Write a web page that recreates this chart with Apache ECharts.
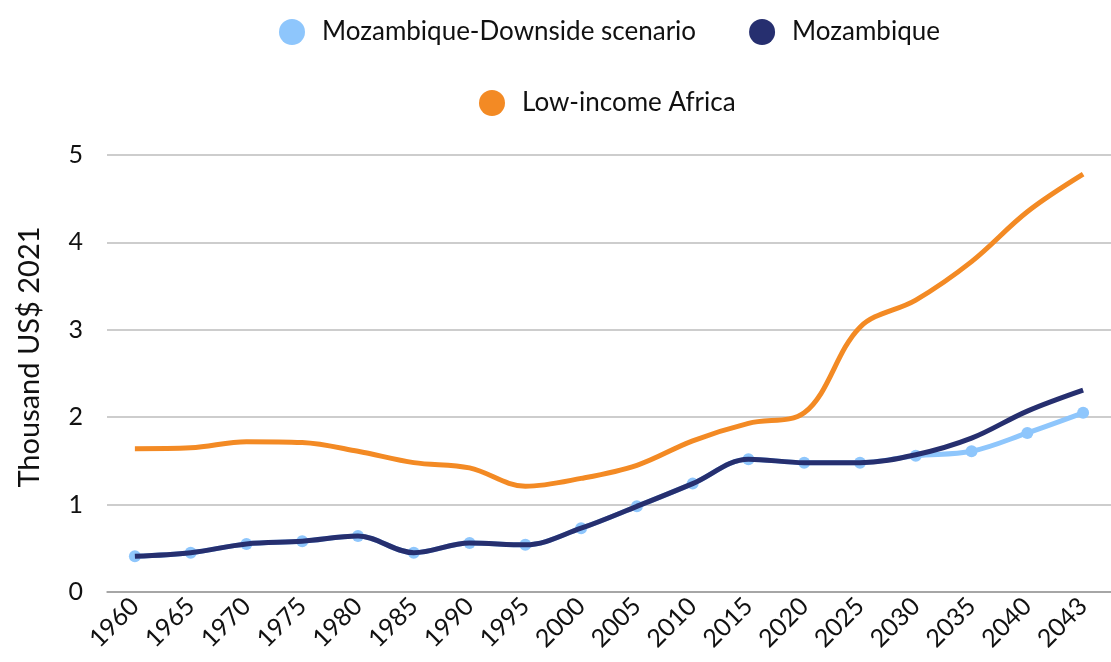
<!DOCTYPE html>
<html>
<head>
<meta charset="utf-8">
<script src="https://cdn.jsdelivr.net/npm/echarts@6/dist/echarts.min.js"></script>
<style>html,body{margin:0;padding:0;background:#fff}#c{width:1111px;height:662px}</style>
</head>
<body>
<div id="c"></div>
<script>
const years = ['1960','1965','1970','1975','1980','1985','1990','1995','2000','2005','2010','2015','2020','2025','2030','2035','2040','2043'];
const downside = [0.41,0.45,0.55,0.58,0.64,0.45,0.56,0.54,0.73,0.98,1.24,1.52,1.48,1.48,1.56,1.61,1.82,2.05];
const mozambique = [0.41,0.45,0.55,0.58,0.64,0.45,0.56,0.54,0.73,0.98,1.24,1.52,1.48,1.48,1.57,1.76,2.07,2.31];
const lowIncomeAfrica = [1.64,1.65,1.72,1.71,1.61,1.48,1.42,1.21,1.30,1.45,1.73,1.93,2.05,3.03,3.34,3.78,4.35,4.78];
const yTicks = [0,1,2,3,4,5];

const FONT = 'Lato, "Open Sans", sans-serif';
const chart = echarts.init(document.getElementById('c'));
chart.setOption({
  animation: false,
  textStyle: {fontFamily: FONT},
  legend: [
    {data: ['Mozambique-Downside scenario','Mozambique'], top: 14, left: 274, icon: 'circle',
     itemWidth: 26, itemHeight: 26, itemGap: 53,
     textStyle: {fontSize: 26, color: '#111', fontFamily: FONT, padding: [0,0,0,12]}},
    {data: ['Low-income Africa'], top: 85, left: 474, icon: 'circle',
     itemWidth: 26, itemHeight: 26,
     textStyle: {fontSize: 26, color: '#111', fontFamily: FONT, padding: [0,0,0,12]}}
  ],
  grid: {left: 107, right: -12, top: 155, bottom: 70, containLabel: false},
  xAxis: {
    type: 'category', data: years, boundaryGap: true,
    axisLine: {lineStyle: {color: '#999', width: 1.5}},
    axisTick: {show: false},
    axisLabel: {rotate: 45, fontSize: 25, color: '#111', margin: 10, interval: 0, fontFamily: FONT}
  },
  yAxis: {
    type: 'value', min: yTicks[0], max: yTicks[yTicks.length-1], interval: 1,
    axisLine: {show: false}, axisTick: {show: false},
    axisLabel: {fontSize: 25, color: '#111', margin: 24, fontFamily: FONT},
    splitLine: {lineStyle: {color: '#bdbdbd', width: 1.5}}
  },
  graphic: [{
    type: 'text', x: 30, y: 357, rotation: Math.PI/2,
    style: {text: 'Thousand US$ 2021', fontSize: 29, fill: '#111', fontFamily: FONT, align: 'center', verticalAlign: 'middle'}
  }],
  series: [
    {name: 'Mozambique-Downside scenario', type: 'line', data: downside, smooth: 0.35,
     symbol: 'circle', symbolSize: 12, showSymbol: true,
     itemStyle: {color: '#8EC6FC'}, lineStyle: {color: '#8EC6FC', width: 5}, z: 2},
    {name: 'Mozambique', type: 'line', data: mozambique, smooth: 0.35, showSymbol: false, symbol: 'circle',
     itemStyle: {color: '#262F6F'}, lineStyle: {color: '#262F6F', width: 5}, z: 3},
    {name: 'Low-income Africa', type: 'line', data: lowIncomeAfrica, smooth: 0.35, showSymbol: false, symbol: 'circle',
     itemStyle: {color: '#F38A24'}, lineStyle: {color: '#F38A24', width: 5}, z: 4}
  ]
});
</script>
</body>
</html>
